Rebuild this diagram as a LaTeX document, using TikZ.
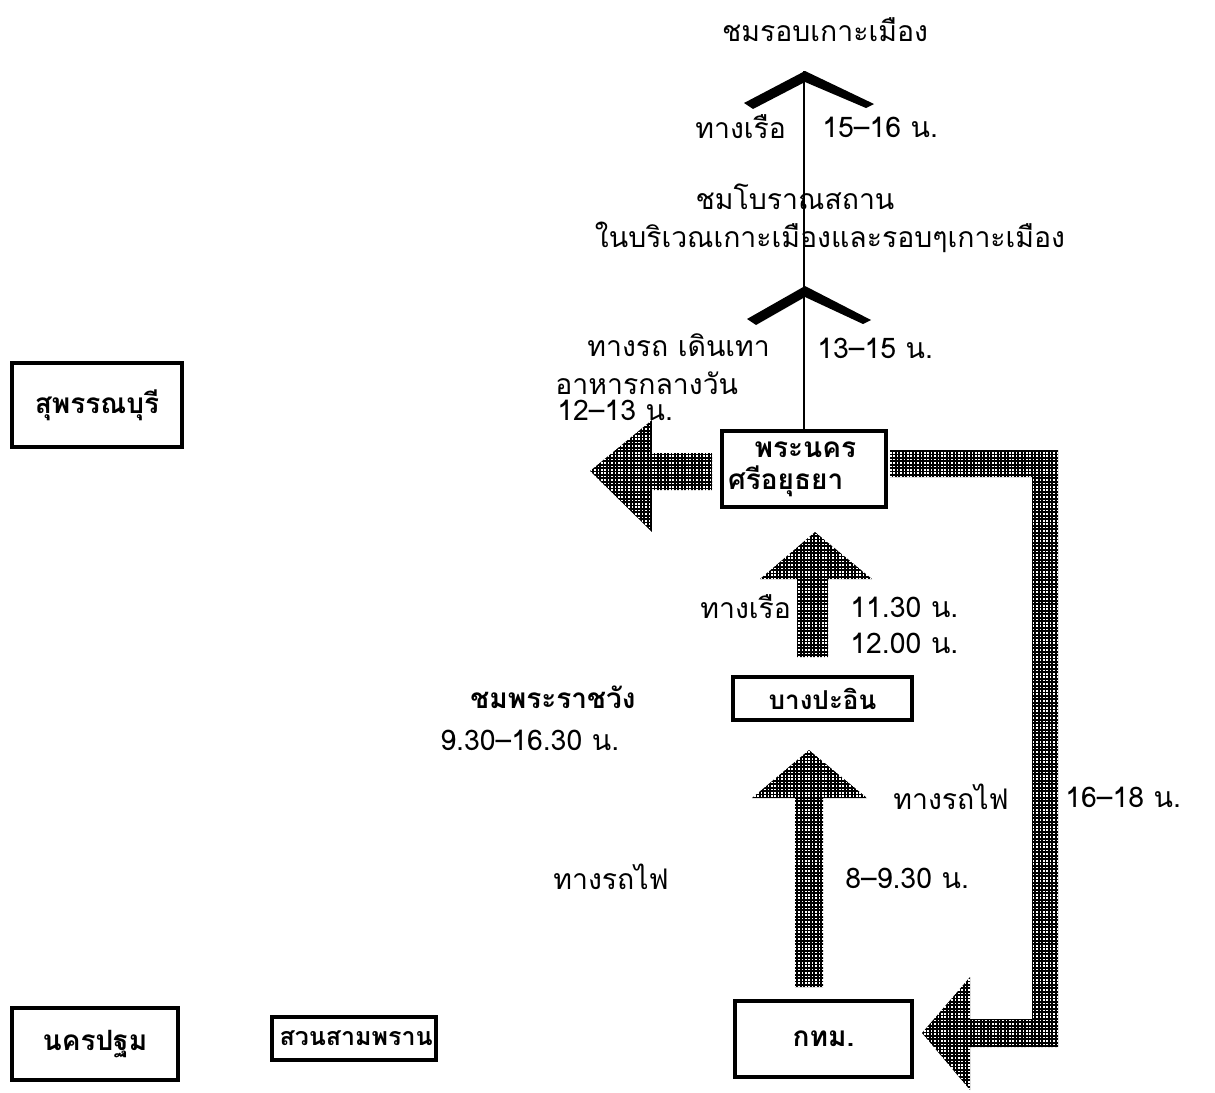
\documentclass[tikz,border=0pt]{standalone}
\usepackage{fontspec}
\newfontfamily\thai[Script=Thai]{Loma}
\usetikzlibrary{patterns}
\pgfdeclarepatternformonly{fgrid}{\pgfqpoint{-0.1pt}{-0.1pt}}{\pgfqpoint{1.8pt}{1.8pt}}{\pgfqpoint{1.7pt}{1.7pt}}{%
  \pgfsetlinewidth{0.95pt}%
  \pgfpathmoveto{\pgfqpoint{0pt}{0.85pt}}\pgfpathlineto{\pgfqpoint{1.7pt}{0.85pt}}%
  \pgfpathmoveto{\pgfqpoint{0.85pt}{0pt}}\pgfpathlineto{\pgfqpoint{0.85pt}{1.7pt}}%
  \pgfusepath{stroke}}
\tikzset{
  txt/.style={font=\thai\fontsize{14.2}{16}\selectfont, inner sep=0pt, anchor=west},
  txtc/.style={txt, anchor=center},
  txtb/.style={txt, font=\thai\bfseries\fontsize{14}{16}\selectfont},
  place/.style={draw, line width=2pt, font=\thai\bfseries\fontsize{14}{16}\selectfont, inner sep=0pt, align=center},
  blockarrow/.style={pattern=fgrid, pattern color=black, draw=none},
  chevron/.style={fill=black, draw=none},
  spine/.style={line width=1pt}
}
\begin{document}
\begin{tikzpicture}[x=0.5pt,y=-0.5pt]
\useasboundingbox (0,0) rectangle (1215,1092);
% place boxes
\node[place, minimum width=85pt, minimum height=42pt] (sup) at (97,405) {สุพรรณบุรี};
\node[place, minimum width=83pt, minimum height=36pt] (nkp) at (95,1044) {นครปฐม};
\node[place, minimum width=79.5pt, minimum height=21.5pt, font=\thai\bfseries\fontsize{12.5}{15}\selectfont, text width=74pt, align=left, inner xsep=4pt] (ssp) at (353.5,1038.5) {สวนสามพราน};
\node[place, minimum width=81.5pt, minimum height=38pt, text width=76pt, align=left, inner xsep=3pt] (ayu) at (804,469) {\hspace*{0.95em}พระนคร\\ศรีอยุธยา};
\node[place, minimum width=89.5pt, minimum height=21.5pt, font=\thai\bfseries\fontsize{13}{15}\selectfont] (bpi) at (822.5,698.5) {บางปะอิน};
\node[place, minimum width=88.5pt, minimum height=38pt] (bkk) at (823.5,1039) {กทม.};
% spine with chevrons
\coordinate (apexA) at (805,71);
\coordinate (apexB) at (805,286);
\draw[spine] (ayu.north) -- (ayu.north |- apexA);
\fill[chevron] (apexA) -- (874,104) -- (866,108) -- (805,82) -- (753,109) -- (744,103) -- cycle;
\fill[chevron] (apexB) -- (871,320) -- (863,324) -- (805,297) -- (756,325) -- (747,319) -- cycle;
% block arrows
\fill[blockarrow] (712,453) -- (652,453) -- (652,420) -- (590,471) -- (652,532) -- (652,490) -- (712,490) -- cycle;
\fill[blockarrow] (890,450) -- (1058,450) -- (1058,1047) -- (970,1047) -- (970,1090) -- (922,1033) -- (970,977) -- (970,1019) -- (1032,1019) -- (1032,477) -- (890,477) -- cycle;
\fill[blockarrow] (797,657) -- (797,579) -- (760,579) -- (815,532) -- (872,579) -- (828,579) -- (828,657) -- cycle;
\fill[blockarrow] (795,987) -- (795,798) -- (752,798) -- (809,750) -- (867,798) -- (823,798) -- (823,987) -- cycle;
% labels
\node[txtc] (t1) at (825,30) {ชมรอบเกาะเมือง};
\node[txt] (t2) at (695,127) {ทางเรือ};
\node[txt] (t3) at (822,127) {15–16 น.};
\node[txtc] (t4) at (795,197) {ชมโบราณสถาน};
\node[txtc] (t5) at (830,237) {ในบริเวณเกาะเมืองและรอบๆเกาะเมือง};
\node[txt] (t6) at (587,345) {ทางรถ เดินเทา};
\node[txt] (t7) at (817,348) {13–15 น.};
\node[txt] (t8) at (555,383) {อาหารกลางวัน};
\node[txt] (t9) at (557,410) {12–13 น.};
\node[txt] (t10) at (700,607) {ทางเรือ};
\node[txt] (t11) at (850,607) {11.30 น.};
\node[txt] (t12) at (850,643) {12.00 น.};
\node[txtb] (t13) at (470,697) {ชมพระราชวัง};
\node[txt] (t14) at (440,740) {9.30–16.30 น.};
\node[txt] (t15) at (893,797) {ทางรถไฟ};
\node[txt] (t16) at (1065,797) {16–18 น.};
\node[txt] (t17) at (553,877) {ทางรถไฟ};
\node[txt] (t18) at (845,878) {8–9.30 น.};
\end{tikzpicture}
\end{document}
